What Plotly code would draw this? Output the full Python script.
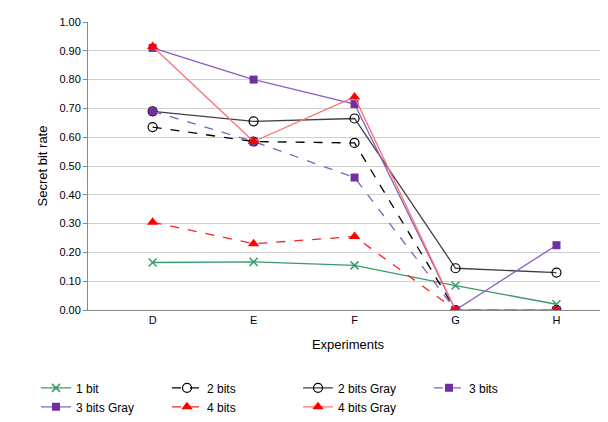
import plotly.graph_objects as go

experiments = ["D", "E", "F", "G", "H"]
one_bit = [0.165, 0.167, 0.155, 0.085, 0.02]
two_bits = [0.635, 0.585, 0.58, 0.0, 0.0]
two_bits_gray = [0.69, 0.655, 0.665, 0.145, 0.13]
three_bits = [0.69, 0.585, 0.46, 0.0, 0.0]
three_bits_gray = [0.91, 0.80, 0.715, 0.0, 0.225]
four_bits = [0.305, 0.23, 0.255, 0.0, 0.0]
four_bits_gray = [0.915, 0.585, 0.74, 0.0, 0.0]

series = [
    ("1 bit", one_bit, "#3a9a6a", "#3a9a6a", "solid", "x-thin", 8),
    ("2 bits", two_bits, "black", "black", "dash", "circle-open", 9),
    ("2 bits Gray", two_bits_gray, "#404040", "black", "solid", "circle-open", 9),
    ("3 bits", three_bits, "#8a5cc0", "#7030a0", "dash", "square", 8),
    ("3 bits Gray", three_bits_gray, "#8a5cc0", "#7030a0", "solid", "square", 8),
    ("4 bits", four_bits, "#ff2020", "red", "dash", "triangle-up", 10),
    ("4 bits Gray", four_bits_gray, "#ff7070", "red", "solid", "triangle-up", 10),
]

fig = go.Figure()
for name, vals, lc, mc, dash, sym, size in series:
    marker = dict(symbol=sym, size=size, color=mc)
    if sym == "x-thin":
        marker["line"] = dict(color=mc, width=1.5)
    if sym == "circle-open":
        marker["line"] = dict(color=mc, width=1.2)
    fig.add_trace(go.Scatter(
        x=experiments, y=vals, name=name, mode="lines+markers",
        line=dict(color=lc, width=1.3, dash=dash), marker=marker,
    ))

fig.update_layout(
    width=608, height=422, plot_bgcolor="white", paper_bgcolor="white",
    margin=dict(l=80, r=8, t=12, b=120),
    font=dict(family="Liberation Sans", size=11, color="black"),
    legend=dict(orientation="h", x=-0.1, y=-0.22, xanchor="left", yanchor="top",
                entrywidth=86, font=dict(size=12), tracegroupgap=0),
)
fig.update_xaxes(title_text="Experiments", showline=True, linecolor="#888",
                 ticks="", title_standoff=14, range=[-0.64, 4.51])
fig.update_yaxes(title_text="Secret bit rate", range=[0, 1.0], dtick=0.1,
                 tickformat=".2f", showgrid=True, gridcolor="#d0d0d0",
                 showline=True, linecolor="#888", zeroline=False,
                 ticks="outside", ticklen=4, tickcolor="#888", title_standoff=8)

fig.write_html("out.html")
